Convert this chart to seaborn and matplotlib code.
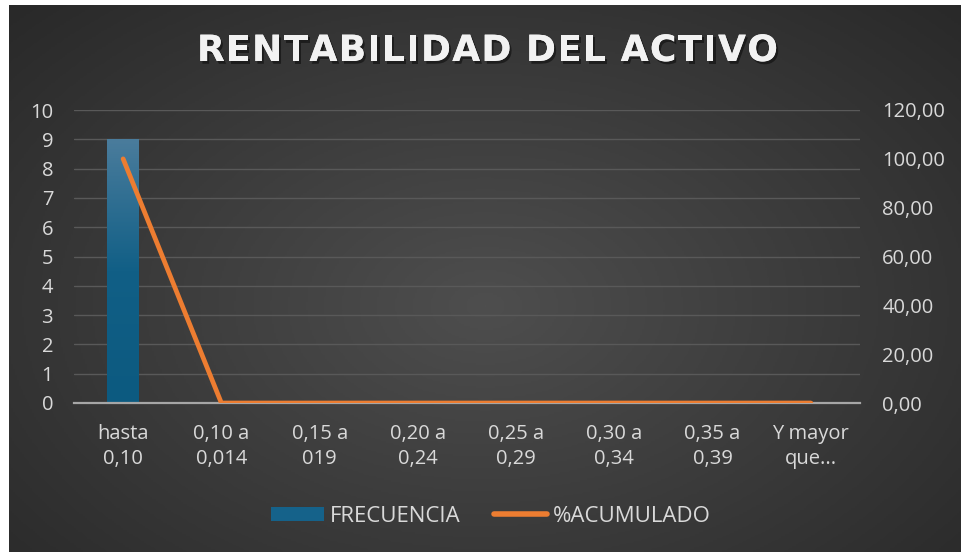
import numpy as np
import pandas as pd
import matplotlib
matplotlib.use('Agg')
import matplotlib.pyplot as plt
import matplotlib.patheffects as pe
from matplotlib.lines import Line2D
from matplotlib.patches import Patch
from matplotlib.colors import LinearSegmentedColormap
import seaborn as sns

# datos
rangos = ['hasta\n0,10', '0,10 a\n0,014', '0,15 a\n019', '0,20 a\n0,24',
          '0,25 a\n0,29', '0,30 a\n0,34', '0,35 a\n0,39', 'Y mayor\nque...']
frecuencia = [9, 0, 0, 0, 0, 0, 0, 0]
acumulado = [100, 0, 0, 0, 0, 0, 0, 0]
ticks_izq = [0, 1, 2, 3, 4, 5, 6, 7, 8, 9, 10]
ticks_der = [0, 20, 40, 60, 80, 100, 120]
titulo = 'RENTABILIDAD DEL ACTIVO'

df = pd.DataFrame({'rango': rangos, 'frecuencia': frecuencia, 'acumulado': acumulado})

sns.set_style('dark')
plt.rcParams['font.family'] = ['Open Sans', 'DejaVu Sans']
texto = '#d9d9d9'
fs = 14.5

W, H = 962, 552
fig = plt.figure(figsize=(W / 100, H / 100), dpi=100, facecolor='white')

# fondo con degradado radial
bg = fig.add_axes([9 / W, 0, 1 - 9 / W, 1 - 5 / H])
yy, xx = np.mgrid[0:1:300j, 0:1:500j]
r = np.sqrt(((xx - 0.5) / 0.75) ** 2 + ((yy - 0.55) / 0.85) ** 2)
cmap_bg = LinearSegmentedColormap.from_list('bg', ['#4e4e4e', '#3a3a3a', '#262626'])
bg.imshow(np.clip(r, 0, 1), cmap=cmap_bg, aspect='auto', extent=[0, 1, 0, 1], vmin=0, vmax=1)
bg.set_axis_off()

ax = fig.add_axes([74 / W, 1 - 403 / H, (860 - 74) / W, (403 - 110) / H])
ax.patch.set_alpha(0)

sns.barplot(data=df, x='rango', y='frecuencia', color='#1f6f96', width=0.32, ax=ax,
            zorder=2, edgecolor='none', linewidth=0)
ax.set_ylim(0, 10)
ax.set_xlim(-0.5, len(rangos) - 0.5)
ax.set_yticks(ticks_izq)
ax.set_xlabel('')
ax.set_ylabel('')
ax.grid(axis='y', color='#595959', linewidth=1, zorder=0)
ax.grid(axis='x', visible=False)
for s in ['top', 'left', 'right']:
    ax.spines[s].set_visible(False)
ax.spines['bottom'].set_color('#a6a6a6')
ax.spines['bottom'].set_linewidth(1.6)
ax.spines['bottom'].set_zorder(3)
ax.tick_params(axis='y', length=0, pad=15, labelsize=fs, labelcolor=texto)
ax.tick_params(axis='x', length=0, pad=15, labelsize=fs, labelcolor=texto)
for lab in ax.get_xticklabels():
    lab.set_linespacing(1.35)

# degradado en la barra
cmap_bar = LinearSegmentedColormap.from_list('bar', ['#0c5a80', '#115f86', '#4a7c9c'])
grad = np.linspace(0, 1, 200).reshape(-1, 1)
for p in ax.patches:
    x0, y0 = p.get_x(), p.get_y()
    w, h = p.get_width(), p.get_height()
    if h <= 0:
        continue
    im = ax.imshow(grad, cmap=cmap_bar, aspect='auto', origin='lower',
                   extent=[x0, x0 + w, y0, y0 + h], zorder=2.1)
    im.set_clip_path(p)
ax.set_xlim(-0.5, len(rangos) - 0.5)
ax.set_ylim(0, 10)

ax2 = ax.twinx()
sns.lineplot(data=df, x='rango', y='acumulado', color='#ed7d31', linewidth=3.4,
             ax=ax2, sort=False, zorder=4, solid_capstyle='round', solid_joinstyle='miter')
ax2.set_ylim(0, 120)
ax2.set_yticks(ticks_der)
ax2.set_yticklabels([f'{v:.2f}'.replace('.', ',') for v in ticks_der])
ax2.set_ylabel('')
ax2.grid(False)
for s in ax2.spines.values():
    s.set_visible(False)
ax2.tick_params(axis='y', length=0, pad=16, labelsize=fs, labelcolor=texto)

# titulo con espaciado entre letras
renderer = fig.canvas.get_renderer()
tkw = dict(fontsize=26, fontweight='bold', color='#f2f2f2', family='DejaVu Sans', va='center', ha='left')
efectos = [pe.withSimplePatchShadow(offset=(1.5, -2), shadow_rgbFace='black', alpha=0.45), pe.Normal()]
anchos = []
for ch in titulo:
    t = fig.text(0, 0, ch if ch != ' ' else 'I', **tkw)
    wpx = t.get_window_extent(renderer).width
    if ch == ' ':
        wpx *= 0.9
    anchos.append(wpx)
    t.remove()
ancho_total = 778 - 197
track = (ancho_total - sum(anchos)) / (len(titulo) - 1)
xp = 197
for ch, wpx in zip(titulo, anchos):
    if ch != ' ':
        fig.text(xp / W, 1 - 51 / H, ch, path_effects=efectos, **tkw)
    xp += wpx + track

handles = [Patch(facecolor='#15628a', edgecolor='none'),
           Line2D([0], [0], color='#ed7d31', linewidth=4, solid_capstyle='round')]
fig.legend(handles, ['FRECUENCIA', '%ACUMULADO'], loc='center', bbox_to_anchor=(491 / W, 1 - 516 / H),
           ncol=2, frameon=False, fontsize=16, labelcolor=texto, handlelength=2.4,
           handleheight=0.6, handletextpad=0.25, columnspacing=1.5)

fig.savefig('out.png', dpi=100, facecolor='white')
